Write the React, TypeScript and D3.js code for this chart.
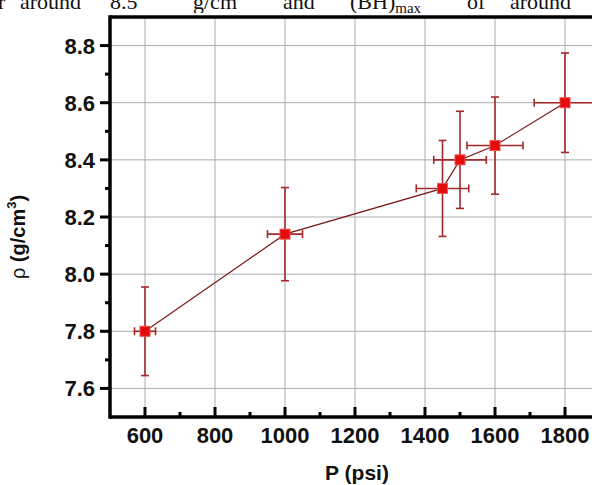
import React from "react";
import * as d3 from "d3";

const pressure = [600, 1000, 1450, 1500, 1600, 1800];
const density = [7.8, 8.14, 8.3, 8.4, 8.45, 8.6];
const densityErr = [0.155, 0.163, 0.168, 0.17, 0.17, 0.174];
const pressureErr = [30, 50, 75, 75, 80, 88];
const xMajorTicks = [600, 800, 1000, 1200, 1400, 1600, 1800];
const xMinorTicks = [700, 900, 1100, 1300, 1500, 1700, 1900];
const yMajorTicks = [7.6, 7.8, 8.0, 8.2, 8.4, 8.6, 8.8];
const yMinorTicks = [7.7, 7.9, 8.1, 8.3, 8.5, 8.7];
const topWords = [
  { t: "r", x: -2 },
  { t: "around", x: 20 },
  { t: "8.5", x: 110 },
  { t: "g/cm", x: 193, sup: "3" },
  { t: "and", x: 283 },
  { t: "(BH)", x: 350, sub: "max" },
  { t: "of", x: 467 },
  { t: "around", x: 510 },
];

const W = 592;
const H = 485;
const left = 110;
const top = 17;
const bottom = 417;
const right = 600;

export default function App() {
  const x = d3.scaleLinear().domain([500, 1900]).range([left, right]);
  const y = d3.scaleLinear().domain([7.5, 8.9]).range([bottom, top]);
  const pts = pressure.map((p, i) => ({
    p,
    d: density[i],
    de: densityErr[i],
    pe: pressureErr[i],
  }));
  const line = d3
    .line<{ p: number; d: number }>()
    .x((v) => x(v.p))
    .y((v) => y(v.d));
  const font = "'Liberation Sans', Arial, sans-serif";
  const errColor = "#a3282b";
  const cap = 4;
  return (
    <div style={{ position: "absolute", left: 0, top: 0 }}>
      <svg width={W} height={H} style={{ display: "block", background: "#fff" }}>
        {/* cropped paper text at top */}
        <g fontFamily="'Liberation Serif', 'Times New Roman', serif" fontSize={22} fill="#111">
          {topWords.map((w, i) => (
            <text key={i} x={w.x} y={9}>
              {w.t}
              {w.sup ? (
                <tspan fontSize={14} dy={-9}>
                  {w.sup}
                </tspan>
              ) : null}
              {w.sub ? (
                <tspan fontSize={15} dy={4}>
                  {w.sub}
                </tspan>
              ) : null}
            </text>
          ))}
        </g>
        <rect x={0} y={13} width={W} height={H - 13} fill="#fff" />
        {/* grid */}
        <g stroke="#acacac" strokeWidth={1}>
          {xMajorTicks.map((t) => (
            <line key={"gx" + t} x1={x(t)} x2={x(t)} y1={top} y2={bottom} />
          ))}
          {yMajorTicks.map((t) => (
            <line key={"gy" + t} x1={left} x2={right} y1={y(t)} y2={y(t)} />
          ))}
        </g>
        {/* connecting line */}
        <path d={line(pts) || ""} fill="none" stroke="#7a1616" strokeWidth={1.2} />
        {/* error bars */}
        <g stroke={errColor} strokeWidth={1.6}>
          {pts.map((v, i) => (
            <g key={"e" + i}>
              <line x1={x(v.p)} x2={x(v.p)} y1={y(v.d - v.de)} y2={y(v.d + v.de)} />
              <line x1={x(v.p) - cap} x2={x(v.p) + cap} y1={y(v.d - v.de)} y2={y(v.d - v.de)} />
              <line x1={x(v.p) - cap} x2={x(v.p) + cap} y1={y(v.d + v.de)} y2={y(v.d + v.de)} />
              <line x1={x(v.p - v.pe)} x2={x(v.p + v.pe)} y1={y(v.d)} y2={y(v.d)} />
              <line x1={x(v.p - v.pe)} x2={x(v.p - v.pe)} y1={y(v.d) - cap} y2={y(v.d) + cap} />
              <line x1={x(v.p + v.pe)} x2={x(v.p + v.pe)} y1={y(v.d) - cap} y2={y(v.d) + cap} />
            </g>
          ))}
        </g>
        {/* markers */}
        <g>
          {pts.map((v, i) => (
            <rect
              key={"m" + i}
              x={x(v.p) - 5}
              y={y(v.d) - 5}
              width={10}
              height={10}
              fill="#e30b0b"
              stroke="#f05050"
              strokeWidth={1}
            />
          ))}
        </g>
        {/* axes frame */}
        <g stroke="#000" strokeWidth={3.5} fill="none">
          <line x1={left} x2={left} y1={top - 1.75} y2={bottom + 1.75} />
          <line x1={left} x2={right + 5} y1={bottom} y2={bottom} />
          <line x1={left} x2={right + 5} y1={top} y2={top} />
        </g>
        {/* ticks */}
        <g stroke="#000" strokeWidth={3}>
          {xMajorTicks.map((t) => (
            <line key={"xt" + t} x1={x(t)} x2={x(t)} y1={bottom} y2={bottom - 10} />
          ))}
          {xMinorTicks.map((t) => (
            <line key={"xm" + t} x1={x(t)} x2={x(t)} y1={bottom} y2={bottom - 5} />
          ))}
          {yMajorTicks.map((t) => (
            <line key={"yt" + t} x1={left} x2={left - 10} y1={y(t)} y2={y(t)} />
          ))}
          {yMinorTicks.map((t) => (
            <line key={"ym" + t} x1={left} x2={left - 5} y1={y(t)} y2={y(t)} />
          ))}
        </g>
        {/* tick labels */}
        <g fontFamily={font} fontWeight="bold" fontSize={22} fill="#111">
          {xMajorTicks.map((t) => (
            <text key={"xl" + t} x={x(t)} y={443} textAnchor="middle">
              {d3.format("d")(t)}
            </text>
          ))}
          {yMajorTicks.map((t) => (
            <text key={"yl" + t} x={95} y={y(t) + 8} textAnchor="end">
              {d3.format(".1f")(t)}
            </text>
          ))}
        </g>
        {/* axis titles */}
        <text
          x={357}
          y={480}
          textAnchor="middle"
          fontFamily={font}
          fontWeight="bold"
          fontSize={21}
          fill="#111"
        >
          P (psi)
        </text>
        <text
          transform="translate(25,237) rotate(-90)"
          textAnchor="middle"
          fontFamily={font}
          fontWeight="bold"
          fontSize={20}
          fill="#111"
        >
          <tspan fontWeight="normal">ρ</tspan> (g/cm
          <tspan fontSize={13} dy={-9}>
            3
          </tspan>
          <tspan dy={9}>)</tspan>
        </text>
      </svg>
    </div>
  );
}
